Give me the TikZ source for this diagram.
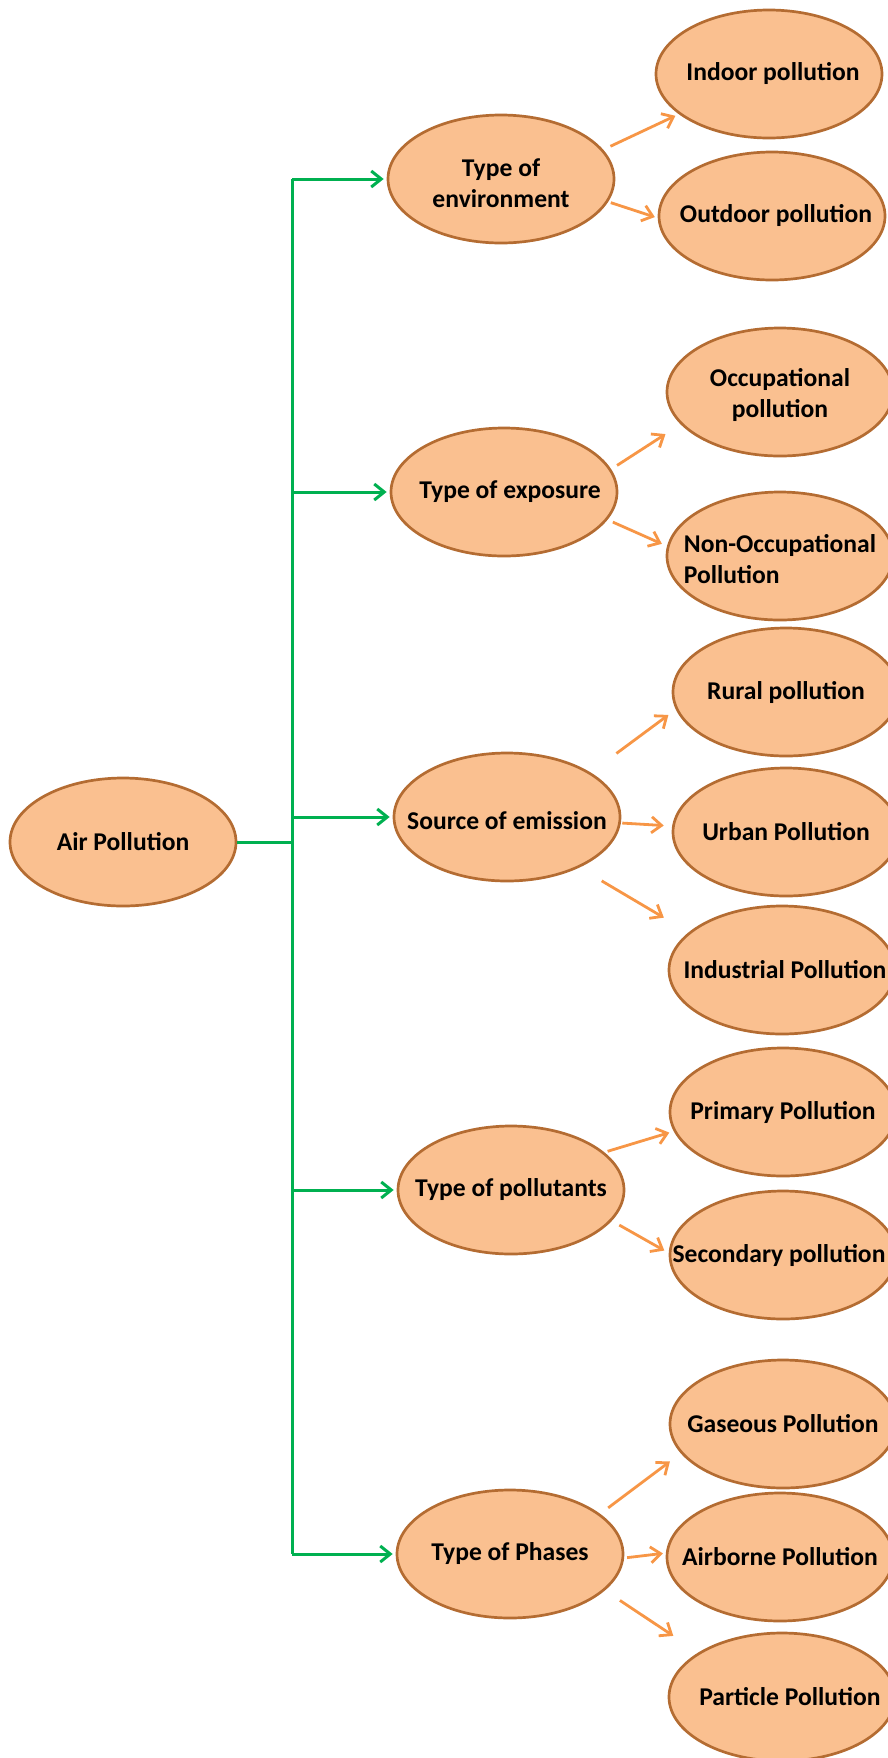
\documentclass[tikz,border=0pt]{standalone}
\usepackage{fontspec}
\setmainfont{Carlito}
\usetikzlibrary{shapes.geometric,arrows.meta}
\definecolor{fillc}{RGB}{250,192,144}
\definecolor{bordc}{RGB}{180,108,50}
\definecolor{orc}{RGB}{247,150,70}
\definecolor{grc}{RGB}{0,176,80}
\begin{document}
\begin{tikzpicture}[x=0.5pt,y=-0.5pt,
  bub/.style={ellipse, draw=bordc, fill=fillc, line width=1.35pt,
    minimum width=113pt, minimum height=64pt, inner sep=0pt},
  txt/.style={font=\bfseries\fontsize{12.8}{15.5}\selectfont, align=center, inner sep=0pt},
  gline/.style={draw=grc, line width=1.5pt},
  garr/.style={draw=grc, line width=1.5pt, -{Straight Barb[length=5pt,width=8pt]}},
  oarr/.style={draw=orc, line width=1.4pt, -{Straight Barb[length=5pt,width=8pt]}}]
\useasboundingbox (0,0) rectangle (888,1758);

% root
\node[bub, label={[txt]center:Air Pollution}] (air) at (123,842) {};

% level 2
\node[bub, label={[txt,yshift=-2pt]center:Type of\\environment}] (env) at (501,179) {};
\node[bub, label={[txt,xshift=3pt]center:Type of exposure}] (exp) at (504,492) {};
\node[bub, label={[txt,yshift=-2pt]center:Source of emission}] (src) at (507,817) {};
\node[bub, label={[txt]center:Type of pollutants}] (pol) at (511,1190) {};
\node[bub, label={[txt]center:Type of Phases}] (ph) at (510,1554) {};

% level 3
\node[bub, label={[txt,xshift=2pt]center:Indoor pollution}] (indoor) at (769,74) {};
\node[bub, label={[txt,xshift=2pt]center:Outdoor pollution}] (outdoor) at (772,216) {};
\node[bub, label={[txt,yshift=-1.5pt]center:Occupational\\pollution}] (occ) at (780,392) {};
\node[bub, label={[txt,align=left,yshift=-1.5pt]center:Non-Occupational\\Pollution}] (nonocc) at (780,556) {};
\node[bub, label={[txt]center:Rural pollution}] (rural) at (786,692) {};
\node[bub, label={[txt]center:Urban Pollution}] (urban) at (786,832) {};
\node[bub, label={[txt,xshift=1.5pt]center:Industrial Pollution}] (indus) at (782,970) {};
\node[bub, label={[txt]center:Primary Pollution}] (primary) at (783,1112) {};
\node[bub, label={[txt,xshift=-2pt]center:Secondary pollution}] (secondary) at (783,1255) {};
\node[bub, label={[txt]center:Gaseous Pollution}] (gaseous) at (783,1424) {};
\node[bub, label={[txt]center:Airborne Pollution}] (airborne) at (780,1557) {};
\node[bub, label={[txt,xshift=4pt]center:Particle Pollution}] (particle) at (782,1697) {};

% green tree connectors
\coordinate (trunk) at (292,842);
\draw[gline] (air) -- (trunk);
\draw[gline] (trunk |- env) -- (trunk |- ph);
\foreach \n in {env,exp,src,pol,ph}
  \draw[garr, shorten >=1.5pt] (trunk |- \n) -- (\n);

% orange connectors
\draw[oarr, shorten <=4pt, shorten >=1.9pt] (env.16) -- (indoor.204);
\draw[oarr, shorten <=1.4pt, shorten >=1.5pt] (env.-12) -- (outdoor.181);
\draw[oarr, shorten <=3.5pt, shorten >=9pt] (exp.12) -- (occ.198);
\draw[oarr, shorten <=2.9pt, shorten >=2.8pt] (exp.-15) -- (nonocc.175);
\draw[oarr, shorten <=16pt, shorten >=4.6pt] (src.28) -- (rural.189);
\draw[oarr, shorten <=0.7pt, shorten >=4.2pt] (src.-3) -- (urban.177);
\draw[oarr, shorten <=13pt, shorten >=14.4pt] (src.-35) -- (indus.158);
\draw[oarr, shorten <=1.7pt, shorten >=2.3pt] (pol.22) -- (primary.190);
\draw[oarr, shorten <=4.3pt, shorten >=2.5pt] (pol.-17) -- (secondary.179);
\draw[oarr, shorten <=5pt, shorten >=6.8pt] (ph.24) -- (gaseous.196);
\draw[oarr, shorten <=1.5pt, shorten >=1.5pt] (ph.-2) -- (airborne.178);
\draw[oarr, shorten <=9pt, shorten >=15pt] (ph.-21) -- (particle.152);
\end{tikzpicture}
\end{document}
